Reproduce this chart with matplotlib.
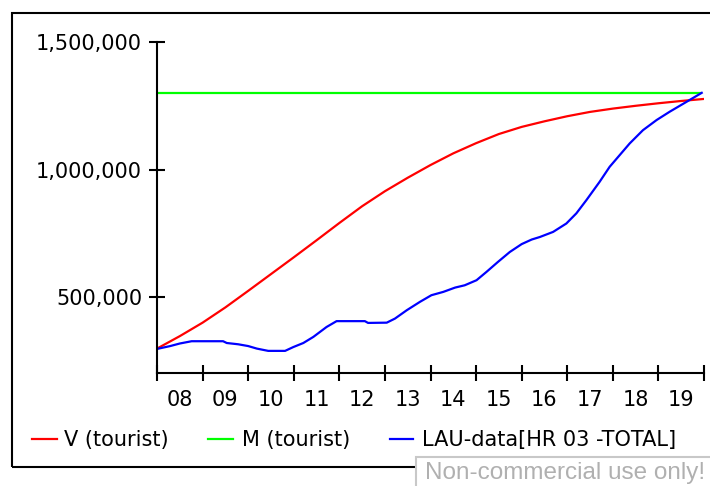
import numpy as np
import matplotlib
matplotlib.use('Agg')
import matplotlib.pyplot as plt
from matplotlib.patches import Rectangle
from matplotlib.lines import Line2D
from matplotlib.ticker import FuncFormatter

# V (tourist)
v_years = [2008.0, 2008.5, 2009.0, 2009.5, 2010.0, 2010.5, 2011.0, 2011.5, 2012.0,
           2012.5, 2013.0, 2013.5, 2014.0, 2014.5, 2015.0, 2015.5, 2016.0, 2016.5,
           2017.0, 2017.5, 2018.0, 2018.5, 2019.0, 2019.5, 2020.0]
v_tourist = [296000, 345000, 398000, 458000, 523000, 589000, 655000, 722000, 790000,
             856000, 915000, 968000, 1018000, 1064000, 1104000, 1140000, 1168000, 1190000,
             1210000, 1227000, 1240000, 1251000, 1261000, 1270000, 1278000]

# M (tourist) - constant
m_years = [2008.0, 2019.92]
m_tourist = [1300000, 1300000]

# LAU-data[HR 03 -TOTAL] - blue curve
lau_years = [2008.01, 2008.29, 2008.50, 2008.76, 2009.45, 2009.53, 2009.78, 2010.00,
             2010.19, 2010.44, 2010.81, 2010.99, 2011.21, 2011.43, 2011.72, 2011.94,
             2012.23, 2012.56, 2012.63, 2013.04, 2013.22, 2013.48, 2013.77, 2014.02,
             2014.28, 2014.54, 2014.75, 2015.01, 2015.23, 2015.48, 2015.74, 2016.00,
             2016.22, 2016.40, 2016.69, 2016.98, 2017.20, 2017.42, 2017.71, 2017.93,
             2018.15, 2018.37, 2018.66, 2018.96, 2019.25, 2019.62, 2019.95]
lau_total = [295000, 306000, 316000, 325000, 325000, 318000, 313000, 306000,
             296000, 287000, 287000, 302000, 318000, 342000, 381000, 404000,
             404000, 404000, 397000, 398000, 414000, 447000, 480000, 506000,
             519000, 536000, 545000, 565000, 598000, 637000, 676000, 707000,
             725000, 735000, 755000, 788000, 828000, 880000, 952000, 1011000,
             1057000, 1103000, 1155000, 1195000, 1228000, 1267000, 1302000]

year_ticks = list(range(2008, 2021))
year_labels = ['08', '09', '10', '11', '12', '13', '14', '15', '16', '17', '18', '19']
y_ticks = [500000, 1000000, 1500000]

W, H = 710, 486
FS = 15
fig = plt.figure(figsize=(W / 100, H / 100), dpi=100)
ax = fig.add_axes([157 / W, 1 - 373 / H, (704 - 157) / W, (373 - 42.5) / H])

ax.plot(v_years, v_tourist, color='#ff0000', lw=1.6)
ax.plot(m_years, m_tourist, color='#00ff00', lw=1.6)
ax.plot(lau_years, lau_total, color='#0000ff', lw=1.6)

ax.set_xlim(2008, 2020)
ax.set_ylim(200000, 1500000)

for s in ['top', 'right']:
    ax.spines[s].set_visible(False)
for s in ['left', 'bottom']:
    ax.spines[s].set_linewidth(1.5)

ax.set_yticks(y_ticks)
ax.yaxis.set_major_formatter(FuncFormatter(lambda v, p: f'{int(v):,}'))
ax.set_xticks(year_ticks)
ax.set_xticklabels([''] * len(year_ticks))
ax.set_xticks(np.array(year_ticks[:-1]) + 0.5, minor=True)
ax.set_xticklabels(year_labels, minor=True)

ax.tick_params(axis='both', which='major', direction='inout', length=11.5, width=1.5,
               labelsize=FS, color='black')
ax.tick_params(axis='y', which='major', pad=5)
ax.tick_params(axis='x', which='minor', length=0, pad=12.5, labelsize=FS)

# outer frame
fig.patches.append(Rectangle((12 / W, 1 - 466.7 / H), 1.0, (466.7 - 12.7) / H,
                             transform=fig.transFigure, fill=False, lw=1.5,
                             ec='black', zorder=1))

# legend row drawn by hand
leg_y = 1 - 439 / H
legend_items = [('V (tourist)', '#ff0000', 32, 56.7, 64.3),
                ('M (tourist)', '#00ff00', 208.3, 232.7, 241.7),
                ('LAU-data[HR 03 -TOTAL]', '#0000ff', 390, 412.7, 421.7)]
for label, col, x0, x1, xt in legend_items:
    fig.add_artist(Line2D([x0 / W, x1 / W], [leg_y, leg_y], color=col, lw=1.6,
                          transform=fig.transFigure))
    fig.text(xt / W, 1 - 440 / H, label, fontsize=FS, va='center', ha='left')

# watermark box
fig.patches.append(Rectangle((416 / W, -0.05), 0.5, 0.05 + (486 - 457) / H,
                             transform=fig.transFigure, fc='white', ec='#c8c8c8',
                             lw=1.5, zorder=5))
fig.text(425 / W, 1 - 462 / H, 'Non-commercial use only!', family='Liberation Sans',
         fontsize=17.5, color='#b0b0b0', va='top', ha='left', zorder=6)

fig.savefig('out.png', dpi=100)
